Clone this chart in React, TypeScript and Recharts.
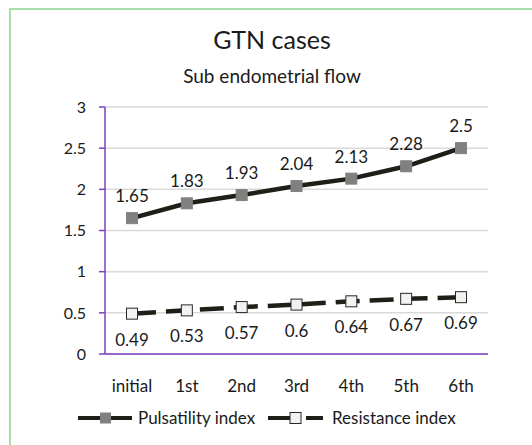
import { CartesianGrid, LabelList, Legend, Line, LineChart, XAxis, YAxis } from "recharts";

const visits = ["initial", "1st", "2nd", "3rd", "4th", "5th", "6th"];
const pulsatility = [1.65, 1.83, 1.93, 2.04, 2.13, 2.28, 2.5];
const resistance = [0.49, 0.53, 0.57, 0.6, 0.64, 0.67, 0.69];
const yTicks = [0, 0.5, 1, 1.5, 2, 2.5, 3];

const data = visits.map((v, i) => ({ visit: v, pi: pulsatility[i], ri: resistance[i] }));

const FONT = "Lato, 'Open Sans', sans-serif";
const INK = "#1f1f17";
const PURPLE = "#7b3fc0";

function Square({ cx, cy, fill, stroke }: any) {
  if (cx == null || cy == null) return null;
  return <rect x={cx - 5.5} y={cy - 5.5} width={11} height={11} fill={fill} stroke={stroke} strokeWidth={1} />;
}

function LegendBox() {
  return (
    <svg width={532} height={24} style={{ display: "block" }}>
      <g fontFamily={FONT} fontSize={17} fill="#1a1a1a">
        <line x1={78} y1={12} x2={132} y2={12} stroke={INK} strokeWidth={4} />
        <rect x={100} y={6.5} width={11} height={11} fill="#808080" />
        <text x={138} y={18}>Pulsatility index</text>
        <line x1={268} y1={12} x2={292} y2={12} stroke={INK} strokeWidth={4} />
        <line x1={306} y1={12} x2={323} y2={12} stroke={INK} strokeWidth={4} />
        <rect x={290} y={6.5} width={11} height={11} fill="#f2f2f2" stroke="#262626" />
        <text x={332} y={18}>Resistance index</text>
      </g>
    </svg>
  );
}

export default function App() {
  return (
    <div style={{ position: "fixed", left: 0, top: 0, width: 532, height: 445, overflow: "hidden", background: "#fff" }}>
      <div
        style={{
          position: "absolute",
          left: 9,
          top: 8,
          width: 600,
          height: 600,
          border: "2px solid #a8dca8",
        }}
      />
      <div style={{ position: "absolute", left: 0, top: 24, width: 544, textAlign: "center", fontFamily: FONT, fontSize: 25, color: "#1a1a1a" }}>
        GTN cases
      </div>
      <div style={{ position: "absolute", left: 0, top: 64, width: 544, textAlign: "center", fontFamily: FONT, fontSize: 19, color: "#1a1a1a" }}>
        Sub endometrial flow
      </div>
      <div style={{ position: "absolute", left: 0, top: 0 }}>
        <LineChart width={532} height={445} data={data} margin={{ top: 107, right: 44, bottom: 17, left: 55 }}>
          <CartesianGrid vertical={false} stroke="#d9d9d9" strokeWidth={1.5} />
          <XAxis
            dataKey="visit"
            axisLine={{ stroke: PURPLE, strokeWidth: 1.5 }}
            tickLine={false}
            tickSize={0}
            tickMargin={26}
            padding={{ left: 27, right: 27 }}
            tick={{ fill: "#1a1a1a", fontSize: 17, fontFamily: FONT }}
            height={50}
          />
          <YAxis
            domain={[0, 3]}
            ticks={yTicks}
            width={50}
            axisLine={{ stroke: PURPLE, strokeWidth: 1.5 }}
            tickLine={{ stroke: PURPLE, strokeWidth: 1.5 }}
            tickSize={6}
            tickMargin={13}
            tick={{ fill: "#1a1a1a", fontSize: 16, fontFamily: FONT }}
          />
          <Legend
            verticalAlign="bottom"
            content={() => <LegendBox />}
            wrapperStyle={{ left: 0, top: 406, width: 532, height: 24 }}
          />
          <Line
            dataKey="pi"
            name="Pulsatility index"
            stroke={INK}
            strokeWidth={4.5}
            dot={<Square fill="#808080" stroke="#808080" />}
            activeDot={false}
            isAnimationActive={false}
          >
            <LabelList dataKey="pi" position="top" offset={16} fill="#1a1a1a" fontSize={17} fontFamily={FONT} />
          </Line>
          <Line
            dataKey="ri"
            name="Resistance index"
            stroke={INK}
            strokeWidth={4.5}
            strokeDasharray="24 10"
            dot={<Square fill="#f2f2f2" stroke="#262626" />}
            activeDot={false}
            isAnimationActive={false}
          >
            <LabelList dataKey="ri" position="bottom" offset={20} fill="#1a1a1a" fontSize={17} fontFamily={FONT} />
          </Line>
        </LineChart>
      </div>
    </div>
  );
}
